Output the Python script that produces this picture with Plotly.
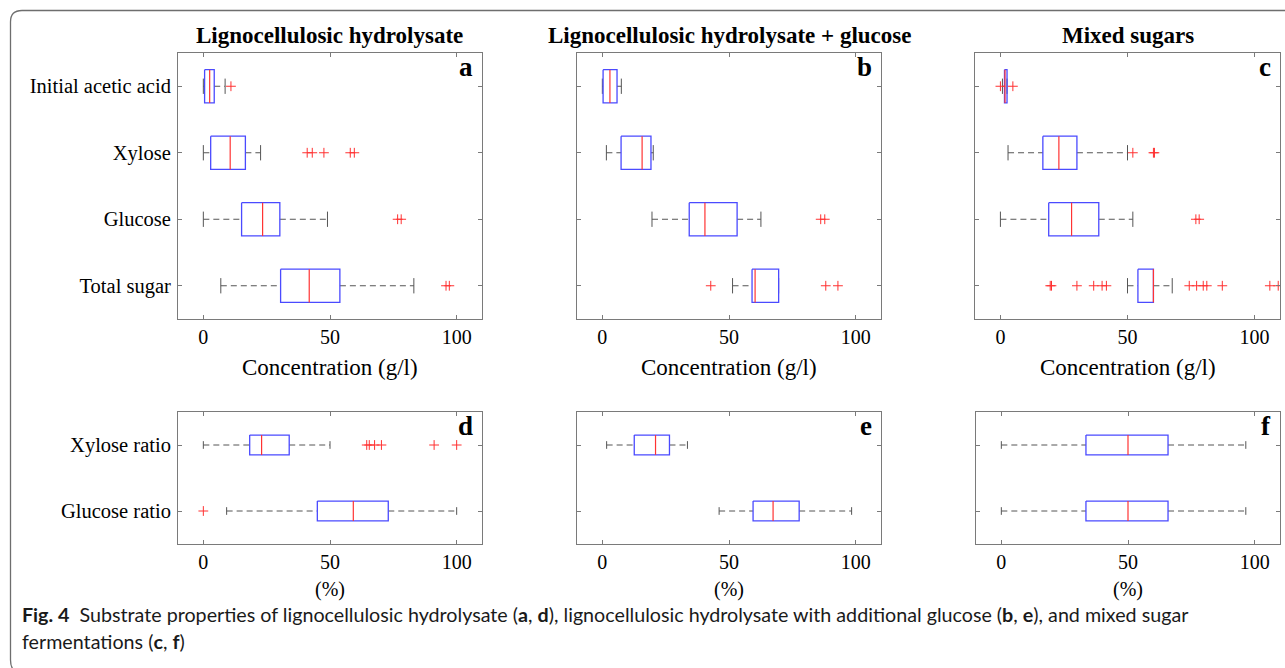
import plotly.graph_objects as go

W, H = 1285, 668

top_cats = ["Initial acetic acid", "Xylose", "Glucose", "Total sugar"]
bot_cats = ["Xylose ratio", "Glucose ratio"]
x_ticks = [0, 50, 100]

# each row: [lower whisker, q1, median, q3, upper whisker]
a_stats = [[0.0, 0.5, 2.5, 4.3, 8.6],
           [0.0, 2.9, 10.6, 16.6, 22.6],
           [0.0, 15.1, 23.4, 30.2, 49.0],
           [6.9, 30.5, 41.8, 53.9, 83.1]]
a_out = [[10.9], [41.0, 43.0, 47.6, 58.0, 59.6], [76.7, 78.1], [95.8, 97.1]]

b_stats = [[0.0, 0.3, 3.0, 5.8, 7.5],
           [1.6, 7.4, 15.7, 19.2, 20.1],
           [19.6, 34.3, 40.5, 53.2, 62.6],
           [51.4, 59.1, 60.3, 69.6, 69.6]]
b_out = [[], [], [86.2, 87.8], [42.8, 88.2, 93.0]]

c_stats = [[0.8, 1.6, 1.8, 2.6, 2.6],
           [3.0, 16.7, 23.0, 30.1, 50.0],
           [0.0, 19.0, 28.0, 38.7, 52.1],
           [50.0, 54.1, 60.2, 60.2, 67.6]]
c_out = [[0.0, 4.9], [52.1, 60.2, 60.6], [76.9, 78.2],
         [19.6, 20.1, 30.1, 36.7, 40.0, 41.7, 74.3, 77.2, 79.8, 81.2, 87.3, 106.0, 109.3]]

d_stats = [[0.0, 18.3, 23.0, 33.9, 50.0],
           [9.2, 45.0, 59.2, 73.0, 100.0]]
d_out = [[64.5, 65.5, 67.6, 70.3, 91.1, 100.0], [0.0]]

e_stats = [[1.7, 12.6, 21.0, 26.5, 33.6],
           [46.1, 59.5, 67.4, 77.7, 98.4]]
e_out = [[], []]

f_stats = [[0.0, 33.4, 50.0, 65.8, 96.5],
           [0.0, 33.4, 50.0, 65.8, 96.5]]
f_out = [[], []]

titles = ["Lignocellulosic hydrolysate", "Lignocellulosic hydrolysate + glucose", "Mixed sugars"]
top_xtitle = "Concentration (g/l)"
bot_xtitle = "(%)"
letters = ["a", "b", "c", "d", "e", "f"]

# layout (pixel boxes: x0, x1, y0(top), y1(bottom))
panels = [
    (a_stats, a_out, top_cats, (178, 482, 53, 319)),
    (b_stats, b_out, top_cats, (577, 881, 53, 319)),
    (c_stats, c_out, top_cats, (975, 1280, 53, 319)),
    (d_stats, d_out, bot_cats, (178, 482, 412, 544)),
    (e_stats, e_out, bot_cats, (577, 881, 412, 544)),
    (f_stats, f_out, bot_cats, (976, 1280, 412, 544)),
]

SERIF = "Liberation Serif"
GRAY = "#7a7a7a"


def px(x):
    return x / W


def py(y):
    return 1 - y / H


fig = go.Figure()
layout = dict(width=W, height=H, margin=dict(l=0, r=0, t=0, b=0),
              paper_bgcolor="white", plot_bgcolor="white", showlegend=False)

for i, (stats, outs, cats, box) in enumerate(panels):
    n = i + 1
    xa = "x" if n == 1 else f"x{n}"
    ya = "y" if n == 1 else f"y{n}"
    top = len(cats) == 4
    hw = 0.25 if top else 0.15   # half box height
    cw = 0.115 if top else 0.058  # half cap height

    wx, wy, cx, cy, bx, by, mx, my, ox, oy = [], [], [], [], [], [], [], [], [], []
    for k, (s, o) in enumerate(zip(stats, outs)):
        pos = k + 1
        lo, q1, med, q3, hi = s
        wx += [lo, q1, None, q3, hi, None]
        wy += [pos, pos, None, pos, pos, None]
        cx += [lo, lo, None, hi, hi, None]
        cy += [pos - cw, pos + cw, None, pos - cw, pos + cw, None]
        bx += [q1, q3, q3, q1, q1, None]
        by += [pos - hw, pos - hw, pos + hw, pos + hw, pos - hw, None]
        mx += [med, med, None]
        my += [pos - hw, pos + hw, None]
        ox += list(o)
        oy += [pos] * len(o)

    common = dict(xaxis=xa, yaxis=ya, hoverinfo="skip", showlegend=False)
    fig.add_trace(go.Scatter(x=wx, y=wy, mode="lines",
                             line=dict(color="#555555", width=1, dash="6px,4px"), **common))
    fig.add_trace(go.Scatter(x=cx, y=cy, mode="lines",
                             line=dict(color="#555555", width=1), **common))
    fig.add_trace(go.Scatter(x=bx, y=by, mode="lines",
                             line=dict(color="#4a4aff", width=1.3), **common))
    fig.add_trace(go.Scatter(x=mx, y=my, mode="lines",
                             line=dict(color="#ff3333", width=1.2), **common))
    fig.add_trace(go.Scatter(x=ox, y=oy, mode="markers",
                             marker=dict(symbol="cross-thin", size=7, color="red",
                                         line=dict(color="#ff3030", width=1)), **common))

    x0, x1, y0, y1 = box
    xkey = "xaxis" if n == 1 else f"xaxis{n}"
    ykey = "yaxis" if n == 1 else f"yaxis{n}"
    layout[xkey] = dict(domain=[px(x0), px(x1)], anchor=ya, range=[-10, 110],
                        tickvals=x_ticks, ticktext=[str(t) for t in x_ticks],
                        ticks="inside", ticklen=4, tickcolor=GRAY,
                        showline=True, linecolor=GRAY, linewidth=1, mirror="ticks",
                        showgrid=False, zeroline=False,
                        tickfont=dict(family=SERIF, size=20, color="black"))
    layout[ykey] = dict(domain=[py(y1), py(y0)], anchor=xa,
                        range=[len(cats) + 0.5, 0.5],
                        tickvals=list(range(1, len(cats) + 1)),
                        ticktext=cats if i in (0, 3) else [""] * len(cats),
                        ticks="inside", ticklen=4, tickcolor=GRAY,
                        showline=True, linecolor=GRAY, linewidth=1, mirror="ticks",
                        showgrid=False, zeroline=False, ticklabelstandoff=2,
                        tickfont=dict(family=SERIF, size=20.5, color="black"))

ann = []
centers = [330, 729, 1128]
for c, t in zip(centers, titles):
    ann.append(dict(x=px(c), y=py(35), xref="paper", yref="paper", text=f"<b>{t}</b>",
                    showarrow=False, xanchor="center", yanchor="middle",
                    font=dict(family=SERIF, size=23, color="black")))
    ann.append(dict(x=px(c), y=py(367), xref="paper", yref="paper", text=top_xtitle,
                    showarrow=False, xanchor="center", yanchor="middle",
                    font=dict(family=SERIF, size=23, color="black")))
    ann.append(dict(x=px(c), y=py(589), xref="paper", yref="paper", text=bot_xtitle,
                    showarrow=False, xanchor="center", yanchor="middle",
                    font=dict(family=SERIF, size=20, color="black")))

for (stats, outs, cats, box), L in zip(panels, letters):
    x0, x1, y0, y1 = box
    ann.append(dict(x=px(x1 - 7), y=py(y0 + 14), xref="paper", yref="paper",
                    text=f"<b>{L}</b>", showarrow=False, xanchor="right", yanchor="middle",
                    font=dict(family=SERIF, size=27, color="black")))

CAP = "Lato"
ann.append(dict(x=px(20), y=py(614), xref="paper", yref="paper", xanchor="left", yanchor="middle",
                showarrow=False, font=dict(family=CAP, size=19.7, color="#1a1a1a"),
                text="<b>Fig. 4</b>  Substrate properties of lignocellulosic hydrolysate (<b>a</b>, <b>d</b>), "
                     "lignocellulosic hydrolysate with additional glucose (<b>b</b>, <b>e</b>), and mixed sugar"))
ann.append(dict(x=px(20), y=py(641), xref="paper", yref="paper", xanchor="left", yanchor="middle",
                showarrow=False, font=dict(family=CAP, size=19.7, color="#1a1a1a"),
                text="fermentations (<b>c</b>, <b>f</b>)"))
layout["annotations"] = ann


def P(x, y):
    return f"{px(x):.5f},{py(y):.5f}"


border = f"M {P(20, 672)} Q {P(10.5, 672)} {P(10.5, 660)} L {P(10.5, 22)} Q {P(10.5, 10.5)} {P(22, 10.5)} L {P(1295, 10.5)}"
layout["shapes"] = [dict(type="path", xref="paper", yref="paper", path=border,
                         line=dict(color="#6e6e6e", width=1.3))]

fig.update_layout(**layout)
fig.write_html("out.html")
